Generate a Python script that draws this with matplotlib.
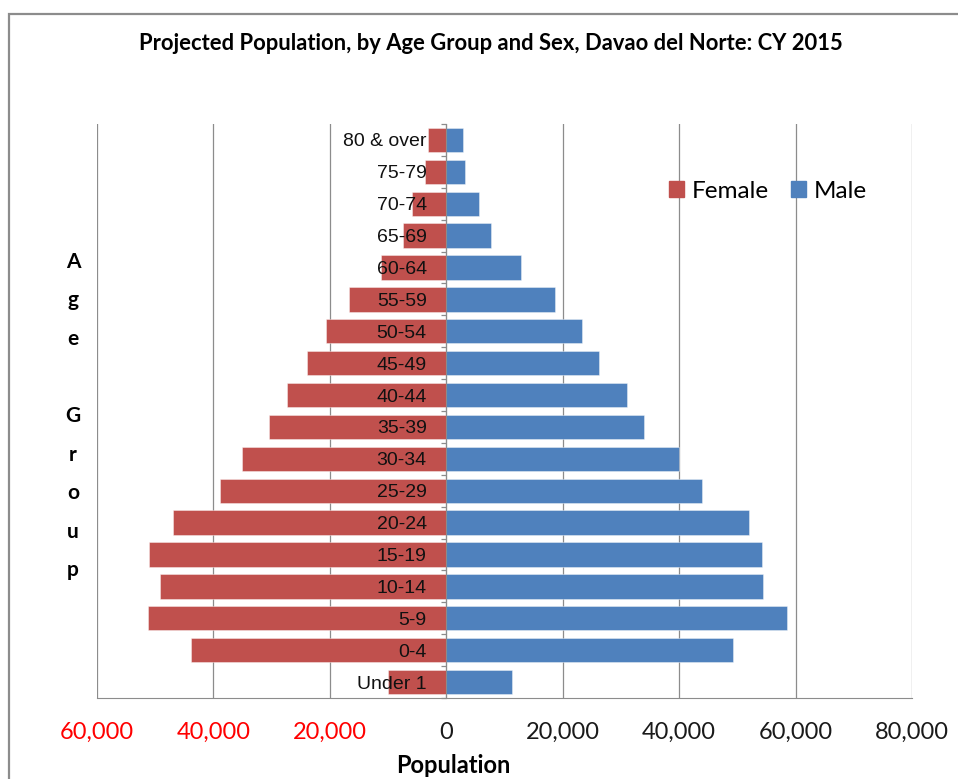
"""
Projected population pyramid, Davao del Norte, CY 2015.
Recreated from an Excel-style chart: female bars to the left, male to the right.
"""

import matplotlib
matplotlib.use("Agg")
import matplotlib.pyplot as plt
from matplotlib.patches import Patch, Rectangle
from matplotlib.ticker import FuncFormatter


# ── Data ──────────────────────────────────────────────────────────────
AGE_GROUPS = [
    "Under 1", "0-4", "5-9", "10-14", "15-19", "20-24", "25-29", "30-34",
    "35-39", "40-44", "45-49", "50-54", "55-59", "60-64", "65-69", "70-74",
    "75-79", "80 & over",
]
FEMALE = [
    10000, 43800, 51300, 49100, 51100, 46900, 38950, 35100,
    30500, 27400, 23950, 20700, 16650, 11150, 7450, 5900,
    3650, 3100,
]
MALE = [
    11300, 49300, 58500, 54400, 54200, 52000, 43900, 40000,
    33900, 31000, 26200, 23300, 18700, 12900, 7600, 5600,
    3200, 2800,
]
X_TICKS = [-60000, -40000, -20000, 0, 20000, 40000, 60000, 80000]

# ── Style ─────────────────────────────────────────────────────────────
FEMALE_COLOR = "#C0504D"
MALE_COLOR = "#4F81BD"
GRID_COLOR = "#8C8C8C"
NEG_LABEL_COLOR = "#FF0000"
TEXT_FONT = ["Lato", "DejaVu Sans"]
NARROW_FONT = ["Liberation Sans Narrow", "Liberation Sans", "DejaVu Sans"]


def main():
    fig = plt.figure(figsize=(9.58, 7.79), dpi=100)
    ax = fig.add_axes([97 / 958, 1 - 698 / 779, 815 / 958, 574 / 779])

    y = list(range(len(AGE_GROUPS)))
    ax.barh(y, [-v for v in FEMALE], height=0.76, color=FEMALE_COLOR,
            edgecolor=(1, 1, 1, 0.45), linewidth=0.6, label="Female", zorder=1)
    ax.barh(y, MALE, height=0.76, color=MALE_COLOR,
            edgecolor=(1, 1, 1, 0.45), linewidth=0.6, label="Male", zorder=1)

    # vertical gridlines behind bars (axis itself stays above for labels)
    for xv in X_TICKS:
        ax.axvline(xv, color=GRID_COLOR, linewidth=0.9, zorder=0)

    ax.set_xlim(X_TICKS[0], X_TICKS[-1])
    ax.set_ylim(-0.5, len(AGE_GROUPS) - 0.5)

    # x axis
    ax.set_xticks(X_TICKS)
    ax.xaxis.set_major_formatter(FuncFormatter(lambda v, _: f"{abs(int(v)):,}"))
    ax.tick_params(axis="x", length=0, pad=17, labelsize=17)
    for lbl, xv in zip(ax.get_xticklabels(), X_TICKS):
        lbl.set_fontfamily(TEXT_FONT)
        lbl.set_color(NEG_LABEL_COLOR if xv < 0 else "#1a1a1a")

    # y axis sits at zero, category names right-aligned just left of it
    ax.spines["left"].set_position(("data", 0))
    ax.spines["left"].set_color(GRID_COLOR)
    ax.spines["bottom"].set_color(GRID_COLOR)
    ax.spines["top"].set_visible(False)
    ax.spines["right"].set_visible(False)
    ax.set_yticks(y)
    ax.set_yticklabels(AGE_GROUPS)
    ax.set_yticks([i + 0.5 for i in y[:-1]] + [-0.5, len(y) - 0.5], minor=True)
    ax.tick_params(axis="y", which="major", length=0, pad=14, labelsize=14)
    ax.tick_params(axis="y", which="minor", length=3.5, color=GRID_COLOR,
                   direction="out", width=0.9)
    for lbl in ax.get_yticklabels():
        lbl.set_fontfamily(NARROW_FONT)
        lbl.set_color("#111111")

    ax.set_xlabel("Population", fontsize=17, fontweight="bold",
                  family=TEXT_FONT)
    # Excel placed the title a bit left of the plot centre
    ax.xaxis.set_label_coords(0.437, -0.097)

    # stacked "Age Group" label
    fig.text(73 / 958, 1 - 416 / 779, "\n".join("Age Group"),
             ha="center", va="center", fontsize=15, fontweight="bold",
             family=TEXT_FONT, linespacing=2.16)

    fig.text(491 / 958, 1 - 44 / 779,
             "Projected Population, by Age Group and Sex, Davao del Norte: CY 2015",
             ha="center", va="center", fontsize=15.8, fontweight="bold",
             family=TEXT_FONT)

    handles = [Patch(color=FEMALE_COLOR, label="Female"),
               Patch(color=MALE_COLOR, label="Male")]
    fig.legend(handles=handles, loc="center left",
               bbox_to_anchor=(669 / 958, 1 - 191 / 779), ncol=2, frameon=False,
               prop={"family": TEXT_FONT, "size": 17.5}, handlelength=0.6,
               handleheight=0.6, handletextpad=0.35, columnspacing=0.9,
               borderpad=0, borderaxespad=0)

    # outer chart frame (cut off at right and bottom as in the reference)
    fig.patches.append(Rectangle((9 / 958, -0.2), 1.2, 1.2 - 14 / 779,
                                 transform=fig.transFigure, fill=False,
                                 edgecolor="#8C8C8C", linewidth=1.6))

    fig.savefig("out.png", dpi=100)
    plt.close(fig)


if __name__ == "__main__":
    main()
